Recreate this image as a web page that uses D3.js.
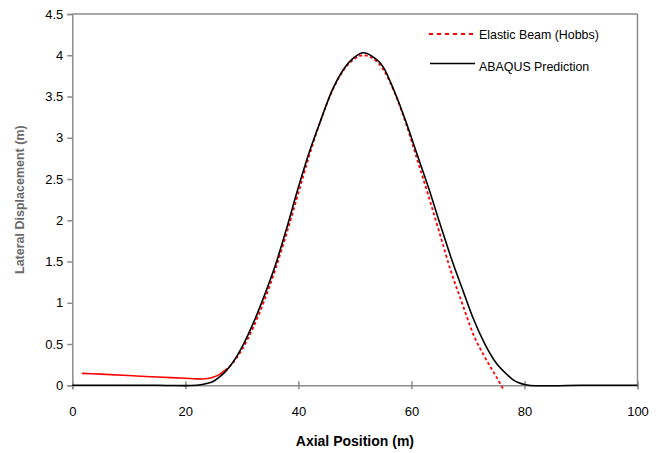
<!DOCTYPE html>
<html><head><meta charset="utf-8">
<script src="https://cdn.jsdelivr.net/npm/d3@7"></script>
<style>body{margin:0;background:#fff}svg{display:block;font-family:Arial,"Liberation Sans",sans-serif}</style>
</head><body><svg id="c" width="663" height="453"></svg>
<script>
const xTicks = [0,20,40,60,80,100];
const yTicks = [0,0.5,1,1.5,2,2.5,3,3.5,4,4.5];
const yTickLabels = ["0","0.5","1","1.5","2","2.5","3","3.5","4","4.5"];
const seriesNames = ["Elastic Beam (Hobbs)","ABAQUS Prediction"];
const xTitle = "Axial Position (m)";
const yTitle = "Lateral Displacement (m)";

const abaqusX = [0,5,10,15,18,20,22,23,24,25,26,27,28,30,32,34,36,38,40,42,44,46,48,50,51.5,53,55,57,59,61,63,65,67,69,71,73,75,77,78,79,80,82,85,90,95,100];
const abaqusY = [0,0,0,0,-0.003,-0.004,0,0.01,0.025,0.05,0.1,0.16,0.24,0.46,0.75,1.09,1.47,1.92,2.4,2.84,3.22,3.58,3.83,3.98,4.03,3.99,3.86,3.56,3.2,2.8,2.4,1.97,1.55,1.17,0.8,0.5,0.27,0.125,0.065,0.03,0.01,-0.005,-0.005,0,0,0];

const hobbsX = [1.7,5,10,15,20,22,23,24,25,26,27,28,30,32,34,36,38,40,42,44,46,48,50,51.5,53,55,57,59,61,63,65,67,69,71,73,75,76.2];
const hobbsY = [0.145,0.135,0.118,0.1,0.085,0.078,0.077,0.082,0.1,0.13,0.18,0.24,0.43,0.7,1.03,1.42,1.86,2.33,2.8,3.22,3.57,3.82,3.96,4.0,3.97,3.83,3.55,3.18,2.74,2.3,1.84,1.38,0.99,0.61,0.34,0.105,-0.04];
const hobbsSolidUntil = 27;

const svg = d3.select("#c");
const x = d3.scaleLinear().domain([0,100]).range([72.3,637.5]);
const y = d3.scaleLinear().domain([0,4.5]).range([385.3,14]);
const axisCol = "#8c8c8c";
const ff = "Arial, 'Liberation Sans', sans-serif";

// frame top and right
svg.append("line").attr("x1",x(0)).attr("x2",x(100)).attr("y1",y(4.5)).attr("y2",y(4.5)).attr("stroke",axisCol).attr("stroke-width",1.5);
svg.append("line").attr("x1",x(100)).attr("x2",x(100)).attr("y1",y(4.5)).attr("y2",y(0)).attr("stroke",axisCol).attr("stroke-width",1.5);

// y axis
const yAx = svg.append("g").attr("transform",`translate(${x(0)},0)`)
  .call(d3.axisLeft(y).tickValues(yTicks).tickFormat((d,i)=>yTickLabels[i]).tickSize(5).tickPadding(4));
yAx.select(".domain").attr("stroke",axisCol).attr("stroke-width",1.5);
yAx.selectAll(".tick line").attr("stroke",axisCol).attr("stroke-width",1.5);
yAx.selectAll("text").attr("font-size","13px").attr("fill","#000").attr("font-family",ff);

// x axis
const xAx = svg.append("g").attr("transform",`translate(0,${y(0)})`)
  .call(d3.axisBottom(x).tickValues(xTicks).tickFormat(d3.format("d")).tickSizeOuter(0).tickSize(4).tickPadding(17));
xAx.select(".domain").attr("stroke",axisCol).attr("stroke-width",1.5);
xAx.selectAll(".tick line").attr("stroke",axisCol).attr("stroke-width",1.5).attr("y1",-4);
xAx.selectAll("text").attr("font-size","13px").attr("fill","#000").attr("font-family",ff);

// titles
svg.append("text").attr("x",(x(0)+x(100))/2).attr("y",446).attr("text-anchor","middle")
  .attr("font-size","14px").attr("font-weight","bold").text(xTitle);
svg.append("text").attr("transform",`translate(24,${(y(0)+y(4.5))/2}) rotate(-90)`).attr("text-anchor","middle")
  .attr("font-size","12.5px").attr("font-weight","bold").attr("fill","#6a6a6a").text(yTitle);

const line = d3.line().x(d=>x(d[0])).y(d=>y(d[1])).curve(d3.curveMonotoneX);
const hobbs = hobbsX.map((v,i)=>[v,hobbsY[i]]);
const abaqus = abaqusX.map((v,i)=>[v,abaqusY[i]]);

svg.append("path").attr("d",line(hobbs.filter(d=>d[0]<=hobbsSolidUntil))).attr("fill","none").attr("stroke","#ff0000").attr("stroke-width",1.6);
svg.append("path").attr("d",line(hobbs.filter(d=>d[0]>=hobbsSolidUntil))).attr("fill","none").attr("stroke","#ff0000").attr("stroke-width",1.8).attr("stroke-dasharray","3,2.5");
svg.append("path").attr("d",line(abaqus)).attr("fill","none").attr("stroke","#000").attr("stroke-width",1.6);

// legend
const lg = svg.append("g");
lg.append("line").attr("x1",429).attr("x2",477).attr("y1",34).attr("y2",34).attr("stroke","#ff0000").attr("stroke-width",2).attr("stroke-dasharray","4,4");
lg.append("text").attr("x",479).attr("y",39).attr("font-size","12.4px").text(seriesNames[0]);
lg.append("line").attr("x1",430).attr("x2",475).attr("y1",63.5).attr("y2",63.5).attr("stroke","#000").attr("stroke-width",1.6);
lg.append("text").attr("x",479).attr("y",70.5).attr("font-size","12.4px").text(seriesNames[1]);
</script></body></html>
